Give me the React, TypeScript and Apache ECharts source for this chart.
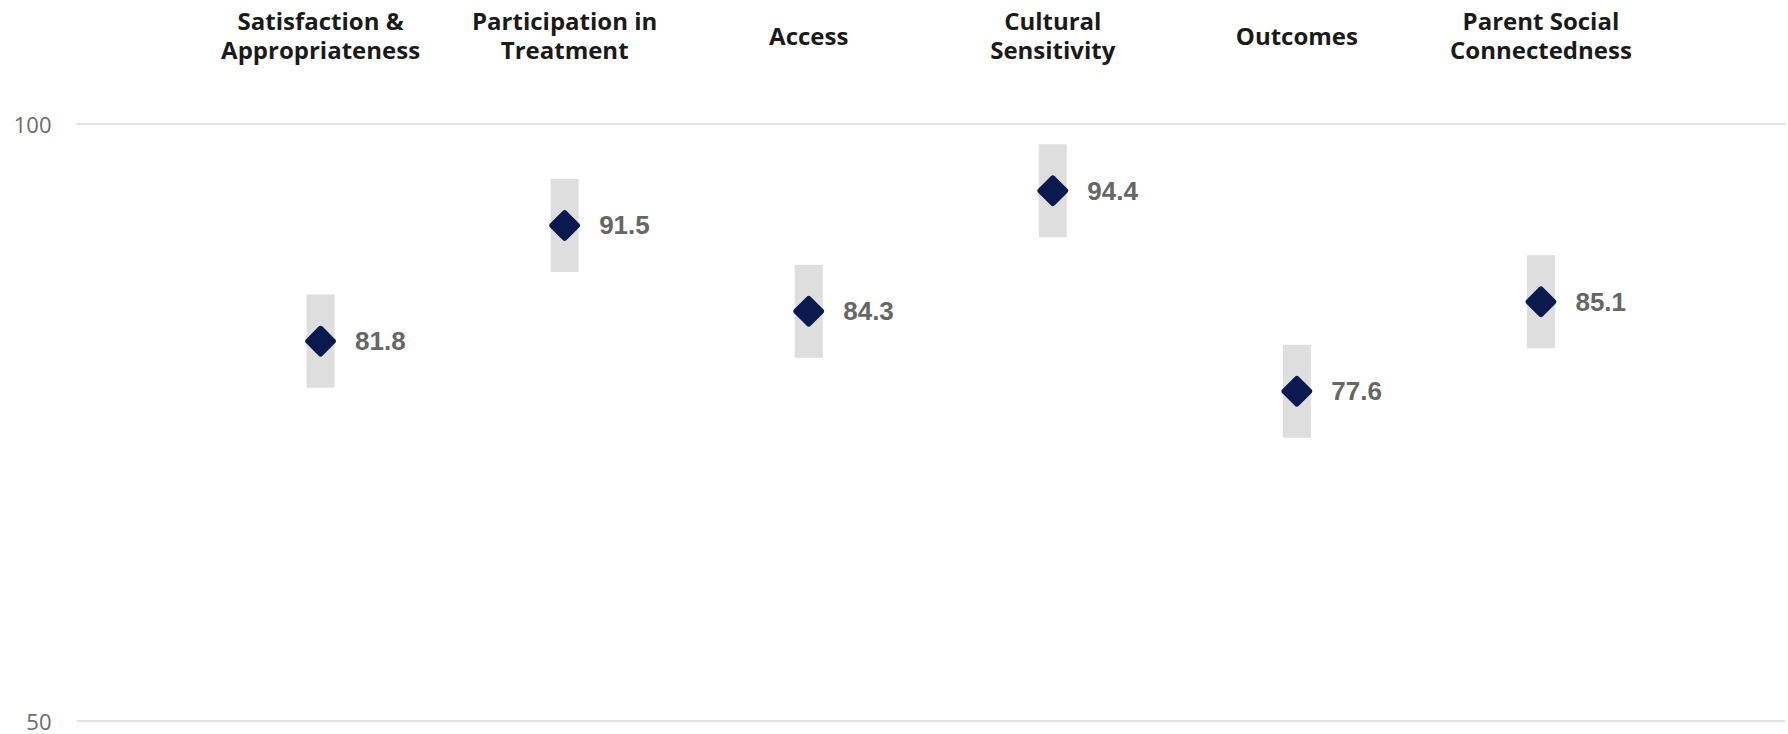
import React, { useEffect, useRef } from "react";
import * as echarts from "echarts";

const categories = [
  "Satisfaction &\nAppropriateness",
  "Participation in\nTreatment",
  "Access",
  "Cultural\nSensitivity",
  "Outcomes",
  "Parent Social\nConnectedness",
];
const scores = [81.8, 91.5, 84.3, 94.4, 77.6, 85.1];
const ciLow = [77.9, 87.6, 80.4, 90.5, 73.7, 81.2];
const ciHigh = [85.7, 95.4, 88.2, 98.3, 81.5, 89.0];
const yTicks = [50, 100];

const DIAMOND =
  "path://M44,6 Q50,0 56,6 L94,44 Q100,50 94,56 L56,94 Q50,100 44,94 L6,56 Q0,50 6,44 Z";

export default function App() {
  const ref = useRef<HTMLDivElement>(null);
  useEffect(() => {
    document.body.style.margin = "0";
    if (!ref.current) return;
    const chart = echarts.init(ref.current, undefined, { renderer: "svg" });
    const axisCats = ["", ...categories, ""];
    chart.setOption({
      animation: false,
      backgroundColor: "#ffffff",
      grid: { left: 76.5, width: 1717, top: 124, bottom: 13.5, containLabel: false },
      xAxis: {
        type: "category",
        data: axisCats,
        boundaryGap: false,
        position: "top",
        axisLine: { show: false },
        axisTick: { show: false },
        splitLine: { show: false },
        axisLabel: {
          interval: 0,
          margin: 89,
          verticalAlign: "middle",
          align: "center",
          fontFamily: "Open Sans",
          fontWeight: 700,
          fontSize: 24,
          lineHeight: 29.5,
          color: "#1a1a1a",
        },
      },
      yAxis: {
        type: "value",
        min: yTicks[0],
        max: yTicks[yTicks.length - 1],
        interval: yTicks[1] - yTicks[0],
        axisLine: { show: false },
        axisTick: { show: false },
        splitLine: { show: true, lineStyle: { color: "#d9d9d9", width: 1.5 } },
        axisLabel: {
          margin: 25,
          fontFamily: "Open Sans",
          fontSize: 22,
          lineHeight: 20,
          color: "#6b6b6b",
        },
      },
      series: [
        {
          type: "custom",
          z: 1,
          data: ciLow.map((lo, i) => [i + 1, lo, ciHigh[i]]),
          renderItem: (params: any, api: any) => {
            const x = api.value(0);
            const p1 = api.coord([x, api.value(2)]);
            const p2 = api.coord([x, api.value(1)]);
            const w = 28;
            return {
              type: "rect",
              shape: { x: p1[0] - w / 2, y: p1[1], width: w, height: p2[1] - p1[1] },
              style: { fill: "#dedede" },
            };
          },
        },
        {
          type: "scatter",
          z: 2,
          symbol: DIAMOND,
          symbolSize: 31,
          itemStyle: { color: "#0b1a4e", opacity: 1 },
          data: scores.map((v, i) => [i + 1, v]),
          label: {
            show: true,
            position: "right",
            distance: 19,
            formatter: (p: any) => p.value[1].toFixed(1),
            fontFamily: "Liberation Sans",
            fontWeight: "bold",
            fontSize: 26,
            color: "#666666",
            opacity: 1,
          },
        },
      ],
    });
    return () => chart.dispose();
  }, []);
  return <div ref={ref} style={{ width: 1788, height: 734 }} />;
}
